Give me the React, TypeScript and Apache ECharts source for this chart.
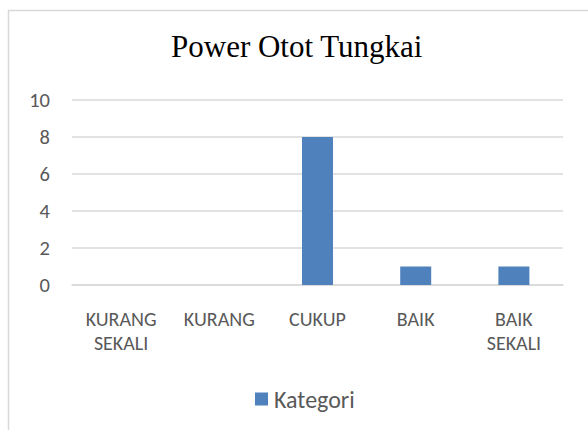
import React, { useEffect, useRef } from "react";
import * as echarts from "echarts";

const categories = ["KURANG\nSEKALI", "KURANG", "CUKUP", "BAIK", "BAIK\nSEKALI"];
const values = [0, 0, 8, 1, 1];
const seriesName = "Kategori";
const titleText = "Power Otot Tungkai";

export default function App() {
  const ref = useRef<HTMLDivElement>(null);
  useEffect(() => {
    if (!ref.current) return;
    const chart = echarts.init(ref.current, null, { renderer: "svg" });
    const sans = "Carlito, Calibri, 'Open Sans', sans-serif";
    chart.setOption({
      animation: false,
      backgroundColor: "#ffffff",
      graphic: [
        {
          type: "rect",
          shape: { x: 8.5, y: 10.5, width: 700, height: 600 },
          style: { fill: "none", stroke: "#d9d9d9", lineWidth: 1.5 },
          silent: true,
        },
      ],
      title: {
        text: titleText,
        left: 171,
        top: 31,
        padding: 0,
        textStyle: {
          fontFamily: "'Liberation Serif', 'Times New Roman', serif",
          fontSize: 31,
          fontWeight: "normal",
          color: "#000000",
        },
      },
      legend: {
        data: [seriesName],
        left: 255,
        top: 387,
        padding: 0,
        itemWidth: 13,
        itemHeight: 13,
        itemGap: 6,
        icon: "rect",
        textStyle: { fontFamily: sans, fontSize: 24, color: "#595959", padding: [0, 0, 0, 1] },
      },
      grid: { left: 72, right: 25, top: 100, bottom: 145, containLabel: false },
      xAxis: {
        type: "category",
        data: categories,
        axisLine: { show: true, lineStyle: { color: "#d9d9d9", width: 1.5 } },
        axisTick: { show: false },
        axisLabel: {
          color: "#595959",
          fontFamily: sans,
          fontSize: 20,
          lineHeight: 24,
          margin: 22,
          interval: 0,
        },
      },
      yAxis: {
        type: "value",
        min: 0,
        max: 10,
        interval: 2,
        axisLine: { show: false },
        axisTick: { show: false },
        splitLine: { lineStyle: { color: "#d9d9d9", width: 1.5 } },
        axisLabel: { color: "#595959", fontFamily: sans, fontSize: 20.5, margin: 22 },
      },
      series: [
        {
          name: seriesName,
          type: "bar",
          data: values,
          barWidth: 31,
          itemStyle: { color: "#4f81bd", borderWidth: 0 },
        },
      ],
    });
    return () => chart.dispose();
  }, []);
  return (
    <div
      ref={ref}
      style={{ position: "absolute", left: 0, top: 0, width: 588, height: 430 }}
    />
  );
}
